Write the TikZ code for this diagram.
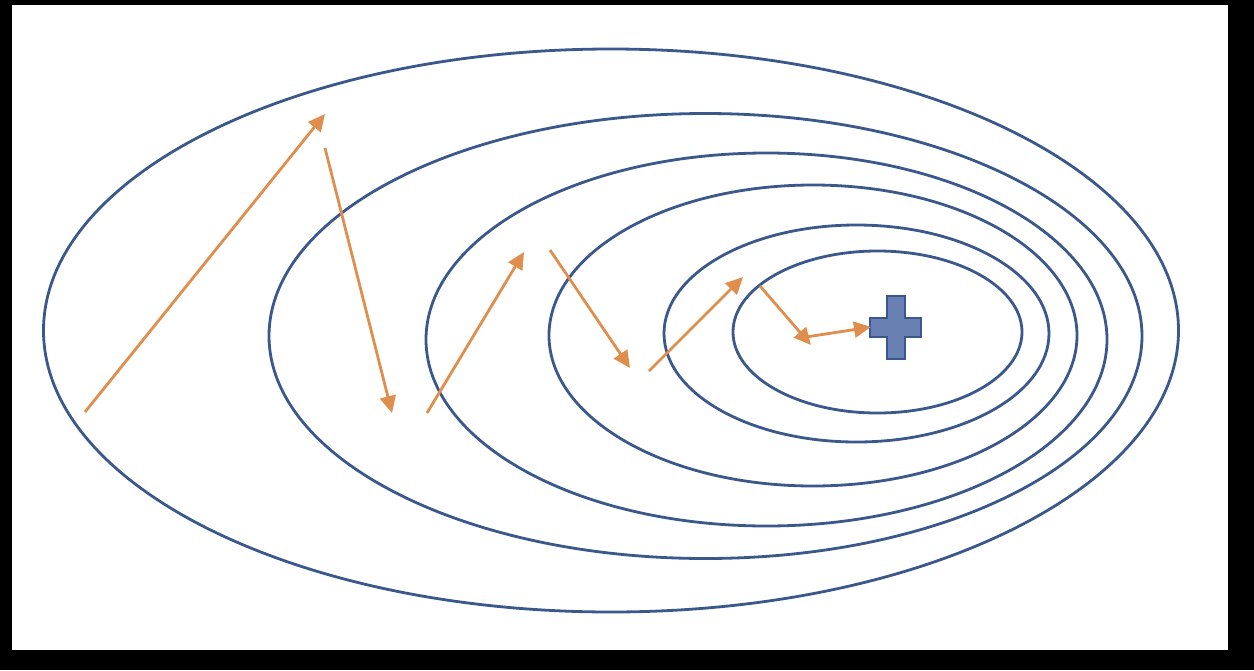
\documentclass[tikz,border=0pt]{standalone}
\usetikzlibrary{arrows.meta}
\definecolor{contour}{RGB}{59,88,140}
\definecolor{stepcol}{RGB}{224,142,78}
\definecolor{crossfill}{RGB}{104,128,178}
\begin{document}
\begin{tikzpicture}[x=1pt,y=-1pt,
  level/.style={draw=contour,line width=2.8pt},
  move/.style={draw=stepcol,line width=2.8pt,-{Triangle[length=17pt,width=16pt]}},
  optimum/.style={draw=contour,fill=crossfill,line width=2.6pt}]
\fill[black] (0,0) rectangle (1254,670);
\fill[white] (12,5) rectangle (1228,650);
\useasboundingbox (0,0) rectangle (1254,670);
% contour ellipses
\draw[level] (611,330.5) ellipse [x radius=567.5, y radius=281.5];
\draw[level] (705.5,336) ellipse [x radius=436.5, y radius=222.5];
\draw[level] (766.5,339.5) ellipse [x radius=340.5, y radius=186.5];
\draw[level] (813,335.5) ellipse [x radius=264, y radius=150.5];
\draw[level] (856.5,333.5) ellipse [x radius=192.5, y radius=108.5];
\draw[level] (877.5,332) ellipse [x radius=144.5, y radius=81];
% optimum cross
\draw[optimum] (887,296) -- (905,296) -- (905,318) -- (921,318) -- (921,337) -- (905,337)
  -- (905,359) -- (887,359) -- (887,337) -- (870,337) -- (870,318) -- (887,318) -- cycle;
% step coordinates
\coordinate (s1) at (85,412);   \coordinate (t1) at (325,114);
\coordinate (s2) at (325,148);  \coordinate (t2) at (392,413);
\coordinate (s3) at (427,413);  \coordinate (t3) at (524,252);
\coordinate (s4) at (550,250);  \coordinate (t4) at (630,368);
\coordinate (s5) at (649,371);  \coordinate (t5) at (743,277);
\coordinate (s6) at (760,286);  \coordinate (t6) at (811,345);
\coordinate (s7) at (806,337);  \coordinate (t7) at (871,327);
\draw[move] (s1) -- (t1);
\draw[move] (s2) -- (t2);
\draw[move] (s3) -- (t3);
\draw[move] (s4) -- (t4);
\draw[move] (s5) -- (t5);
\draw[move] (s6) -- (t6);
\draw[move] (s7) -- (t7);
\end{tikzpicture}
\end{document}
